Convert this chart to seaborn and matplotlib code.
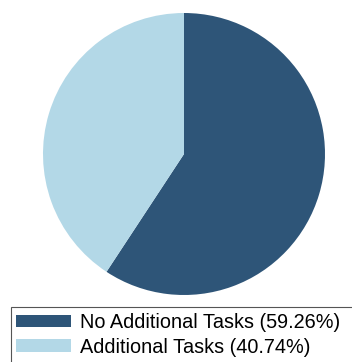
import matplotlib
matplotlib.use("Agg")
import matplotlib.pyplot as plt
from matplotlib.patches import Rectangle
import seaborn as sns

labels = ["No Additional Tasks", "Additional Tasks"]
shares = [59.26, 40.74]
colors = ["#2e5578", "#b3d8e7"]

sns.set_style("white")
plt.rcParams['font.family'] = ['Liberation Sans', 'DejaVu Sans']

fig = plt.figure(figsize=(3.52, 3.62), dpi=100)
ax = fig.add_axes([43 / 352, 1 - 295 / 362, 282 / 352, 282 / 362])

wedges, _ = ax.pie(shares, colors=colors, startangle=90, counterclock=False,
                   radius=1.0, wedgeprops=dict(linewidth=0))
ax.set_xlim(-1, 1)
ax.set_ylim(-1, 1)
ax.set_aspect("equal")
ax.axis("off")

legend_labels = [f"{name} ({val:.2f}%)" for name, val in zip(labels, shares)]
leg = fig.legend(wedges, legend_labels, loc="upper left",
                 bbox_to_anchor=(10 / 352, 1 - 307 / 362),
                 fontsize=14.3, frameon=False, labelcolor="black",
                 handlelength=2.75, handleheight=0.62, handletextpad=0.45,
                 labelspacing=0.28, borderpad=0.3, borderaxespad=0)

# legend box runs off the right and bottom edges in the original
fig.add_artist(Rectangle((10.5 / 352, -0.05), 1.0, 1 - 307 / 362 + 0.05,
                         transform=fig.transFigure, fill=False,
                         edgecolor="#555555", linewidth=0.8))

fig.savefig("out.png", dpi=100)
